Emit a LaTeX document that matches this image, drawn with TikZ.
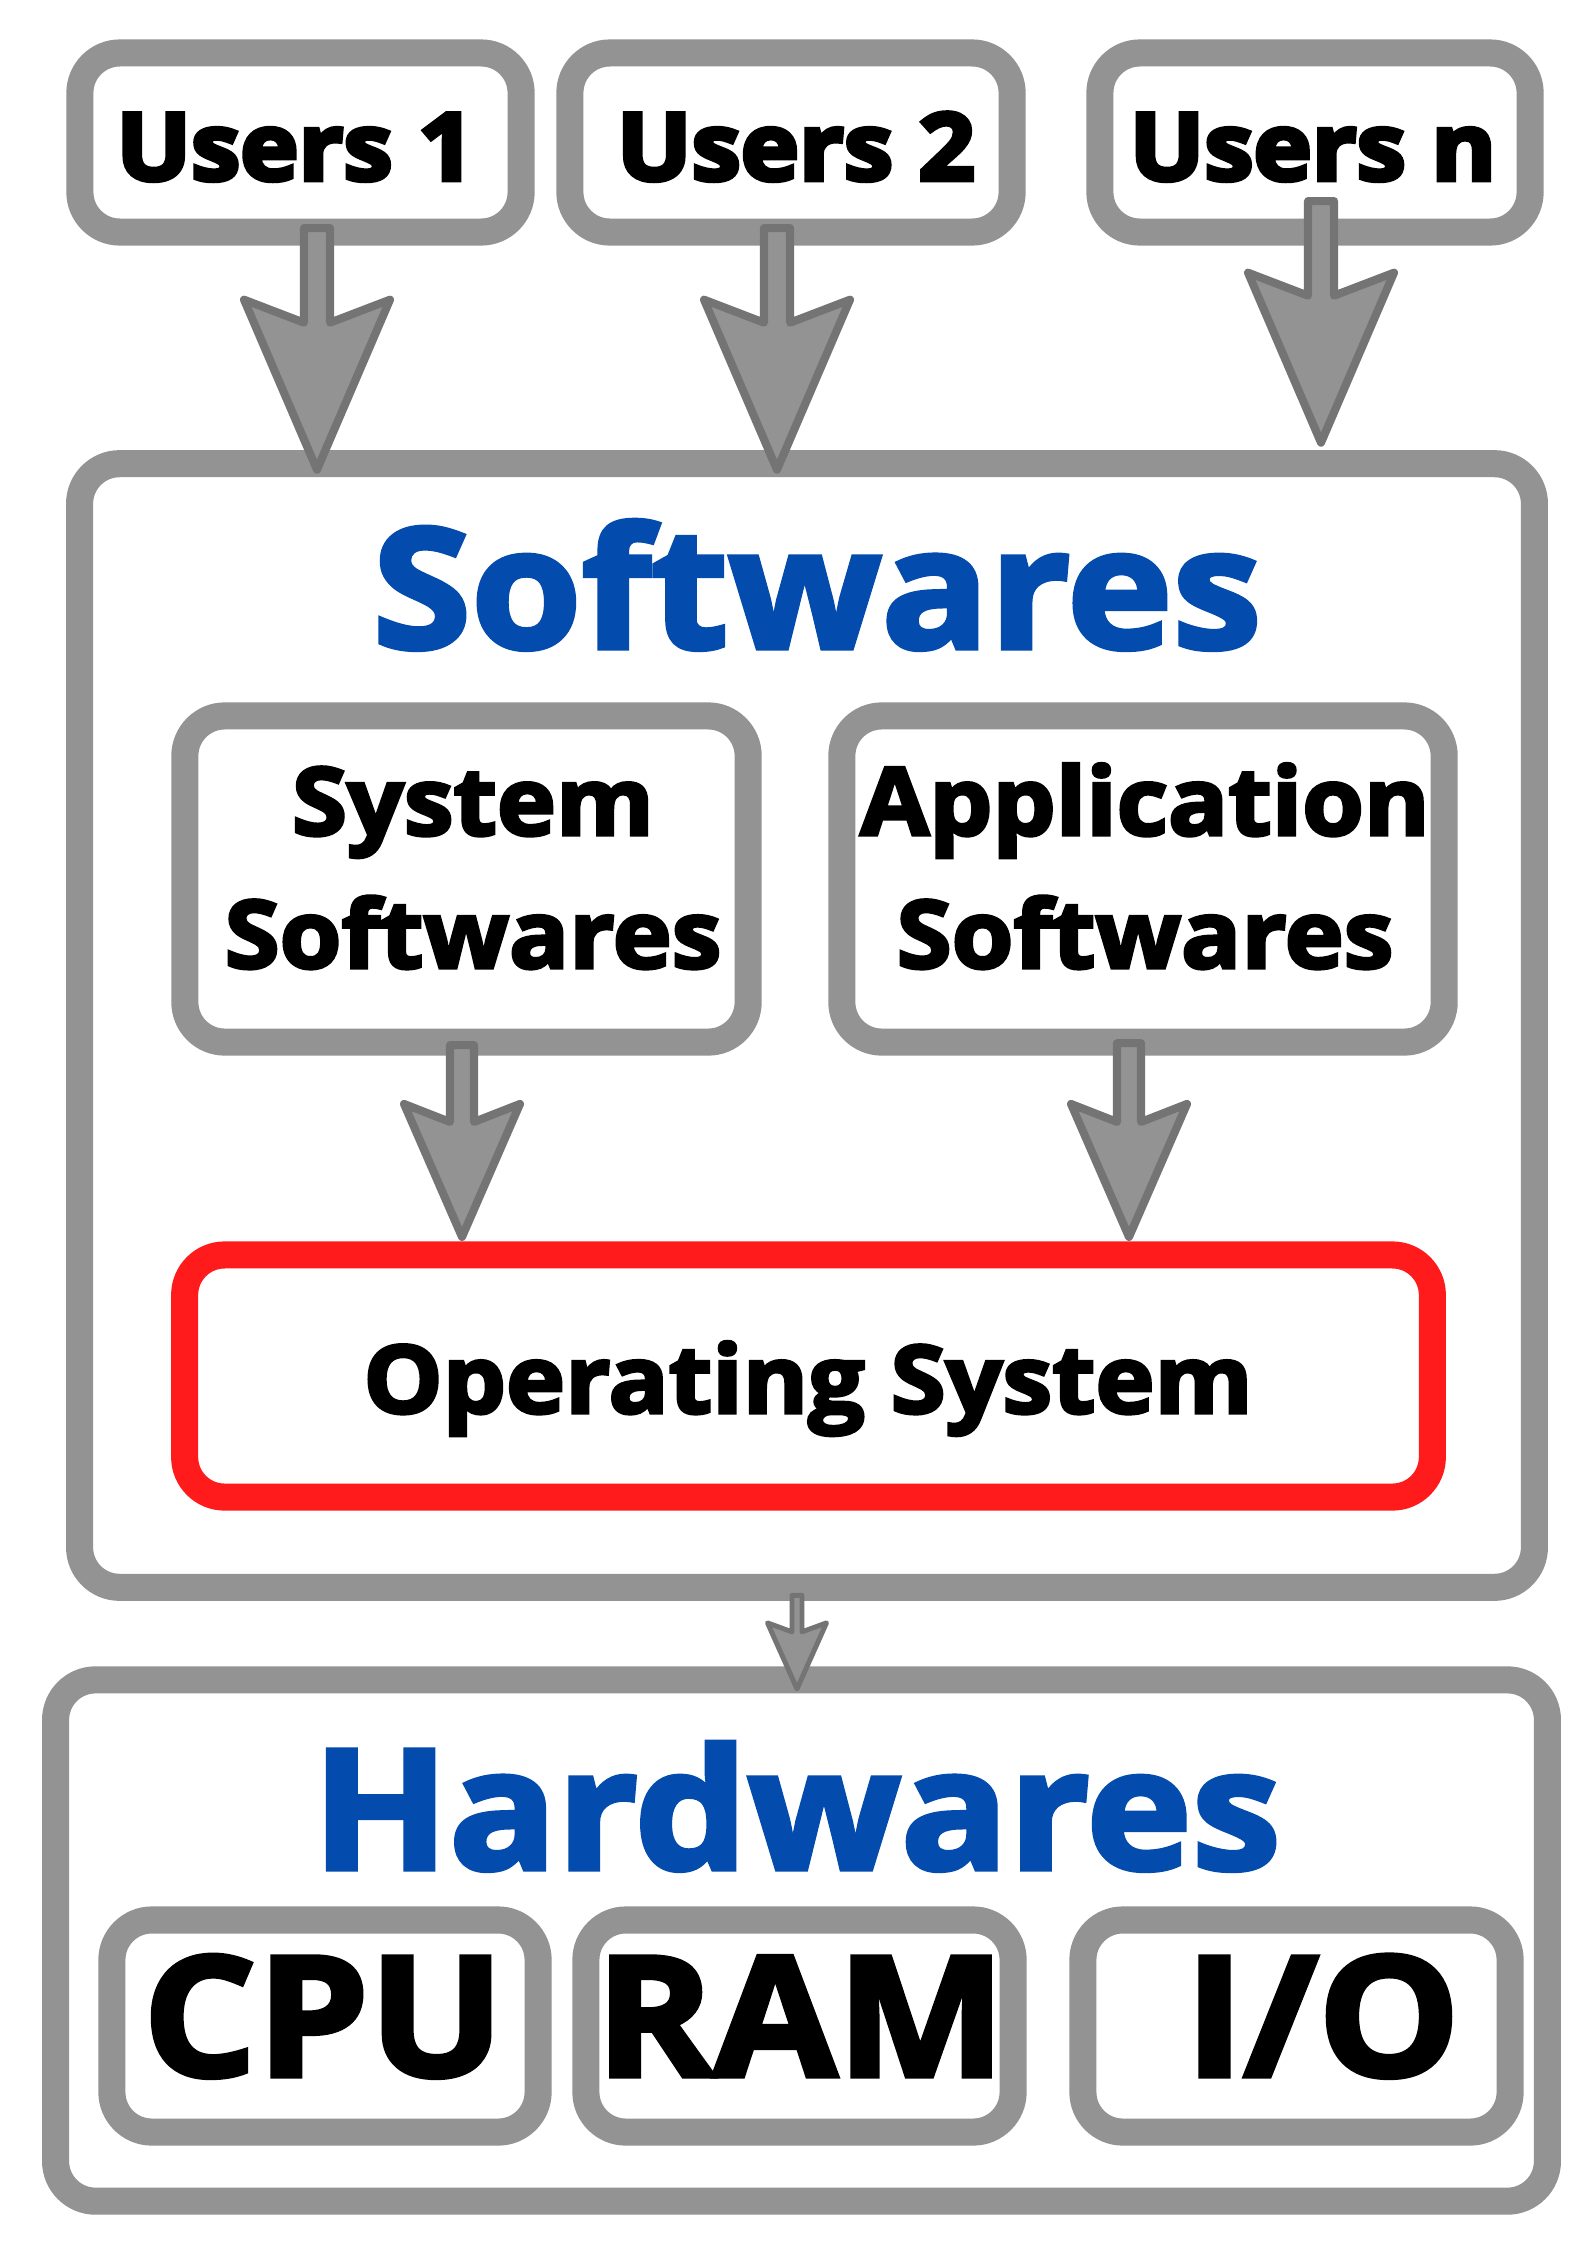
\documentclass[tikz,border=0pt]{standalone}
\usepackage{fontspec}
\setmainfont{Open Sans}
\newfontfamily\userfont[BoldFeatures={FakeBold=5,FakeStretch=1.06}]{Open Sans}
\newfontfamily\labfont[BoldFeatures={FakeBold=3.5,FakeStretch=1.06}]{Open Sans}
\newfontfamily\bigfont[BoldFeatures={FakeBold=3,FakeStretch=1.07}]{Open Sans}
\usetikzlibrary{calc}
\definecolor{boxgray}{HTML}{939393}
\definecolor{arrstroke}{HTML}{747474}
\definecolor{arrfill}{HTML}{939393}
\definecolor{titleblue}{HTML}{034BAD}
\definecolor{osred}{HTML}{FF1B1C}
\tikzset{
  box/.style={draw=boxgray, line width=7.7pt, rounded corners=4mm, fill=white, inner sep=0pt, outer sep=0pt},
  osbox/.style={box, draw=osred},
  blockarr/.style={draw=arrstroke, fill=arrfill, line width=2.3pt, line join=round},
  userlab/.style={inner sep=0pt, anchor=base, font=\userfont\bfseries\fontsize{26.5pt}{30pt}\selectfont},
  lab/.style={inner sep=0pt, anchor=base, align=center, font=\labfont\bfseries\fontsize{26.8pt}{37.8pt}\selectfont},
  title/.style={inner sep=0pt, anchor=base, text=titleblue, font=\bigfont\bfseries\fontsize{47.5pt}{50pt}\selectfont},
  hwlab/.style={inner sep=0pt, anchor=base, font=\bigfont\bfseries\fontsize{47.5pt}{50pt}\selectfont}
}
% [style]{from}{tip}{shaft half}{wing half}{head length}{wing rise}
\newcommand\bigarrowshape[7][]{%
  \draw[blockarr,#1] let \p1=(#2), \p2=(#3) in
   (\x2-#4*0.01cm,\y1) -- (\x2+#4*0.01cm,\y1) -- (\x2+#4*0.01cm,\y2+#6*0.01cm)
   -- (\x2+#5*0.01cm,\y2+#6*0.01cm+#7*0.01cm) -- (\x2,\y2)
   -- (\x2-#5*0.01cm,\y2+#6*0.01cm+#7*0.01cm) -- (\x2-#4*0.01cm,\y2+#6*0.01cm) -- cycle;}
\begin{document}
\begin{tikzpicture}[x=0.01cm, y=-0.01cm]
\fill[white] (0,0) rectangle (1587,2245);
\useasboundingbox (0,0) rectangle (1587,2245);

% boxes
\node[box, minimum width=14.54cm, minimum height=11.23cm] (sw) at (807,1025.5) {};
\node[box, minimum width=4.41cm, minimum height=1.79cm] (u1) at (300.5,142.5) {};
\node[box, minimum width=4.42cm, minimum height=1.79cm] (u2) at (791,142.5) {};
\node[box, minimum width=4.30cm, minimum height=1.79cm] (un) at (1315,142.5) {};
\node[box, minimum width=5.63cm, minimum height=3.26cm] (sys) at (466.5,879) {};
\node[box, minimum width=6.02cm, minimum height=3.26cm] (app) at (1143,879) {};
\node[osbox, minimum width=12.47cm, minimum height=2.42cm] (os) at (808.5,1376) {};
\node[box, minimum width=14.91cm, minimum height=5.21cm] (hw) at (801.5,1940.5) {};
\node[box, minimum width=4.26cm, minimum height=2.12cm] (cpu) at (325,2026) {};
\node[box, minimum width=4.27cm, minimum height=2.12cm] (ram) at (799.5,2026) {};
\node[box, minimum width=4.27cm, minimum height=2.12cm] (io) at (1296.5,2026) {};

% labels
\node[userlab] (u1t) at (295.5,180) {Users 1};
\node[userlab] (u2t) at (796,180) {Users 2};
\node[userlab] (unt) at (1313,180) {Users n};
\node[title] (swt) at (817,648) {Softwares};
\node[lab] (syst) at (473,968) {System\\Softwares};
\node[lab] (appt) at (1145,968) {Application\\Softwares};
\node[lab] (ost) at (808,1413) {Operating System};
\node[title] (hwt) at (796.5,1869) {Hardwares};
\node[hwlab] (cput) at (323.5,2076) {CPU};
\node[hwlab] (ramt) at (800.5,2076) {RAM};
\node[hwlab] (iot) at (1322.5,2076) {I/O};

% arrow end points
\coordinate (a1s) at ($(u1.south)+(16.5,-4)$);
\coordinate (a1t) at ($(u1.south |- sw.north)+(16.5,6)$);
\coordinate (a2s) at ($(u2.south)+(-14,-4)$);
\coordinate (a2t) at ($(u2.south |- sw.north)+(-14,6)$);
\coordinate (ans) at ($(un.south)+(6,-31)$);
\coordinate (ant) at ($(un.south |- sw.north)+(6,-21)$);
\coordinate (a3s) at ($(sys.south)+(-4.5,3)$);
\coordinate (a3t) at ($(sys.south |- os.north)+(-4.5,-18)$);
\coordinate (a4s) at ($(app.south)+(-14,1)$);
\coordinate (a4t) at ($(app.south |- os.north)+(-14,-18)$);
\coordinate (a5s) at ($(sw.south)+(-10,8)$);
\coordinate (a5t) at ($(sw.south |- hw.north)+(-10,9)$);

% arrows
\bigarrowshape{a1s}{a1t}{13}{73}{147}{23}
\bigarrowshape{a2s}{a2t}{13}{73}{147}{23}
\bigarrowshape{ans}{ant}{13}{73}{147}{23}
\bigarrowshape{a3s}{a3t}{12}{58}{115}{18}
\bigarrowshape{a4s}{a4t}{12}{58}{115}{18}
\bigarrowshape[line width=1.4pt]{a5s}{a5t}{5}{29.5}{57}{9}
\end{tikzpicture}
\end{document}
